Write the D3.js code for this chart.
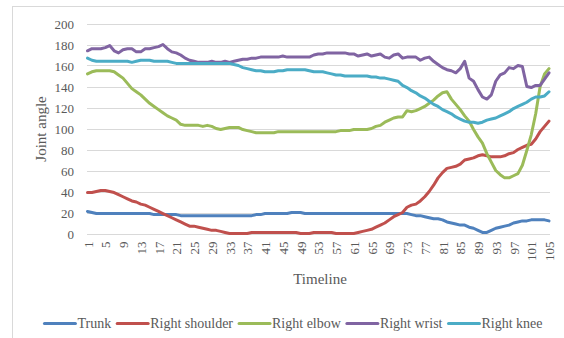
<!DOCTYPE html>
<html>
<head>
<meta charset="utf-8">
<script src="https://cdn.jsdelivr.net/npm/d3@7"></script>
<style>
html,body{margin:0;padding:0;background:#fff;}
svg{display:block;}
text{font-family:"Liberation Serif","Times New Roman",serif;fill:#595959;}
</style>
</head>
<body>
<svg id="chart" width="564" height="338"></svg>
<script>
const categories = d3.range(1, 106);
const yTicks = [0, 20, 40, 60, 80, 100, 120, 140, 160, 180, 200];
const seriesNames = ["Trunk", "Right shoulder", "Right elbow", "Right wrist", "Right knee"];
const seriesColors = ["#4F81BD", "#C0504D", "#9BBB59", "#8064A2", "#4BACC6"];

const trunk = [
21,20,19,19,19,19,19,19,19,19,
19,19,19,19,19,18,18,18,18,18,
18,17,17,17,17,17,17,17,17,17,
17,17,17,17,17,17,17,17,18,18,
19,19,19,19,19,19,20,20,20,19,
19,19,19,19,19,19,19,19,19,19,
19,19,19,19,19,19,19,19,19,19,
19,19,19,18,17,17,16,15,14,14,
13,11,10,9,8,8,6,5,3,1,
1,3,5,6,7,8,10,11,12,12,
13,13,13,13,12];

const rightShoulder = [
39,39,40,41,41,40,39,37,35,33,
31,30,28,27,25,23,21,19,17,15,
13,11,9,7,7,6,5,4,3,3,
2,1,0,0,0,0,0,1,1,1,
1,1,1,1,1,1,1,1,0,0,
0,1,1,1,1,1,0,0,0,0,
0,1,2,3,4,6,8,10,13,16,
18,20,25,27,28,31,35,40,46,53,
58,62,63,64,66,70,71,72,74,75,
74,73,73,73,74,76,77,80,82,84,
85,90,97,102,107];

const rightElbow = [
152,154,155,155,155,155,154,151,148,143,
138,135,132,128,124,121,118,115,112,110,
108,104,103,103,103,103,102,103,102,100,
99,100,101,101,101,99,98,97,96,96,
96,96,96,97,97,97,97,97,97,97,
97,97,97,97,97,97,97,98,98,98,
99,99,99,99,100,102,103,106,108,110,
111,111,117,116,117,119,121,124,127,131,
134,135,128,123,118,112,107,99,92,86,
76,68,60,56,53,53,55,57,65,79,
94,114,140,152,157];

const rightWrist = [
174,176,176,176,177,179,174,172,175,176,
176,173,173,176,176,177,178,180,176,173,
172,170,167,165,164,163,163,163,164,163,
163,164,163,164,165,166,166,167,167,168,
168,168,168,168,169,168,168,168,168,168,
168,170,171,171,172,172,172,172,172,171,
171,169,170,171,169,170,171,168,167,170,
171,167,168,168,168,165,167,168,164,161,
158,156,155,153,157,164,148,145,137,130,
128,132,145,151,153,158,157,160,159,140,
139,141,141,147,153];

const rightKnee = [
167,165,164,164,164,164,164,164,164,164,
163,164,165,165,165,164,164,164,164,163,
162,162,162,162,162,162,162,162,162,162,
162,162,162,161,160,158,157,156,155,155,
154,154,154,155,155,156,156,156,156,156,
155,154,154,154,153,152,151,151,150,150,
150,150,150,150,149,149,148,148,147,146,
145,141,139,136,134,131,129,126,123,121,
118,116,114,111,109,107,106,106,105,106,
108,109,110,112,114,116,119,121,123,125,
128,130,130,131,135];

const seriesValues = [trunk, rightShoulder, rightElbow, rightWrist, rightKnee];
const xLabels = categories.filter(c => (c - 1) % 4 === 0);

const svg = d3.select("#chart");

// outer chart frame
svg.append("rect")
  .attr("x", 12.5).attr("y", 6.5)
  .attr("width", 600).attr("height", 400)
  .attr("fill", "none").attr("stroke", "#d9d9d9").attr("stroke-width", 1);

const plotLeft = 87, plotRight = 550, plotTop = 23.5, plotBottom = 233.5;

const x = d3.scalePoint().domain(categories).range([plotLeft + 0.5, plotRight - 1]);
const y = d3.scaleLinear().domain([0, 200]).range([plotBottom, plotTop]);

// gridlines
svg.append("g").selectAll("line").data(yTicks).join("line")
  .attr("x1", plotLeft).attr("x2", plotRight)
  .attr("y1", d => Math.round(y(d)) + 0.5).attr("y2", d => Math.round(y(d)) + 0.5)
  .attr("stroke", "#d9d9d9").attr("stroke-width", 1);

// y axis labels
const yAxis = d3.axisLeft(y).tickValues(yTicks).tickSize(0).tickPadding(0);
const gy = svg.append("g").attr("transform", "translate(74,0)").call(yAxis);
gy.select(".domain").remove();
gy.selectAll("text").attr("font-size", 13).attr("fill", "#595959")
  .attr("font-family", "Liberation Serif, serif").attr("dy", "0.35em");

// x axis labels (rotated)
const xAxis = d3.axisBottom(x).tickValues(xLabels).tickSize(0).tickPadding(0);
const gx = svg.append("g").attr("transform", `translate(0,${plotBottom})`).call(xAxis);
gx.select(".domain").remove();
gx.selectAll("text")
  .attr("font-size", 13).attr("fill", "#595959")
  .attr("font-family", "Liberation Serif, serif")
  .attr("text-anchor", "end")
  .attr("transform", "rotate(-90)")
  .attr("x", -8).attr("y", 0).attr("dy", "0.35em");

// axis titles
svg.append("text")
  .attr("x", 320).attr("y", 284)
  .attr("text-anchor", "middle").attr("font-size", 15)
  .text("Timeline");
svg.append("text")
  .attr("transform", "translate(46,129) rotate(-90)")
  .attr("text-anchor", "middle").attr("font-size", 15)
  .text("Joint angle");

// series lines
const line = d3.line().x((d, i) => x(categories[i])).y(d => y(d));
svg.append("g").selectAll("path").data(seriesValues).join("path")
  .attr("d", d => line(d))
  .attr("fill", "none")
  .attr("stroke", (d, i) => seriesColors[i])
  .attr("stroke-width", 3)
  .attr("stroke-linejoin", "round")
  .attr("stroke-linecap", "round");

// legend
const legend = svg.append("g");
const legY = 323.5;
let cx = 0;
const items = [];
seriesNames.forEach((name, i) => {
  const g = legend.append("g");
  g.append("line").attr("x1", cx).attr("x2", cx + 31).attr("y1", legY).attr("y2", legY)
    .attr("stroke", seriesColors[i]).attr("stroke-width", 3).attr("stroke-linecap", "round");
  const t = g.append("text").attr("x", cx + 33).attr("y", legY).attr("dy", "0.35em")
    .attr("font-size", 14).text(name);
  const w = t.node().getComputedTextLength();
  cx += 33 + w + 6;
});
const totalW = cx - 6;
legend.attr("transform", `translate(${293.5 - totalW / 2},0)`);
</script>
</body>
</html>
